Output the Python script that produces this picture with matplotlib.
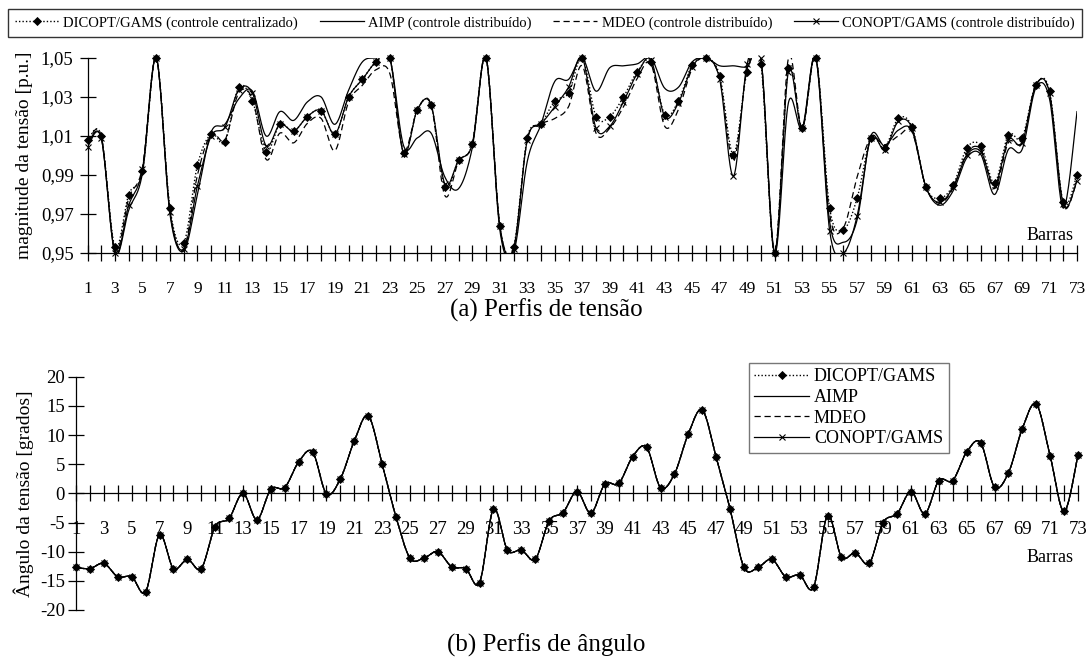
import numpy as np
import matplotlib
matplotlib.use('Agg')
import matplotlib.pyplot as plt
from matplotlib.lines import Line2D

plt.rcParams['font.family'] = ['Liberation Serif', 'DejaVu Serif']

buses = np.arange(1, 74)

# tensao [p.u.]
v_dicopt = [1.008, 1.010, 0.953, 0.980, 0.992, 1.050, 0.973, 0.955, 0.995, 1.011,
            1.007, 1.035, 1.028, 1.002, 1.016, 1.0125, 1.020, 1.023, 1.011, 1.030,
            1.039, 1.048, 1.050, 1.0015, 1.0235, 1.026, 0.984, 0.9975, 1.006, 1.050,
            0.964, 0.953, 1.009, 1.016, 1.028, 1.032, 1.050, 1.020, 1.020, 1.030,
            1.043, 1.048, 1.021, 1.028, 1.0465, 1.050, 1.041, 1.0005, 1.043, 1.047,
            0.950, 1.045, 1.014, 1.050, 0.973, 0.962, 0.978, 1.009, 1.004, 1.019,
            1.0145, 0.984, 0.978, 0.985, 1.004, 1.005, 0.986, 1.0105, 1.009, 1.036,
            1.033, 0.976, 0.990]
v_aimp = [1.006, 1.009, 0.950, 0.972, 0.991, 1.050, 0.970, 0.951, 0.980, 1.012,
          1.016, 1.029, 1.033, 1.010, 1.0225, 1.018, 1.0275, 1.030, 1.016, 1.0335,
          1.048, 1.050, 1.050, 1.005, 1.009, 1.0115, 0.989, 0.983, 1.004, 1.050,
          0.962, 0.950, 0.997, 1.016, 1.038, 1.039, 1.050, 1.033, 1.045, 1.046,
          1.047, 1.050, 1.0345, 1.035, 1.048, 1.050, 1.046, 1.046, 1.0455, 1.050,
          0.950, 1.027, 1.014, 1.050, 0.966, 0.9555, 0.967, 1.010, 1.005, 1.013,
          1.0125, 0.984, 0.9745, 0.982, 0.999, 1.0005, 0.980, 1.003, 1.003, 1.0345,
          1.029, 0.973, 1.0225]
v_mdeo = [1.007, 1.010, 0.951, 0.978, 0.994, 1.050, 0.972, 0.952, 0.990, 1.011,
          1.008, 1.032, 1.029, 0.998, 1.0115, 1.0065, 1.0165, 1.019, 1.0025, 1.0275,
          1.036, 1.044, 1.042, 1.0025, 1.0235, 1.026, 0.9795, 0.997, 1.006, 1.050,
          0.964, 0.952, 1.008, 1.016, 1.019, 1.025, 1.046, 1.0115, 1.014, 1.025,
          1.0395, 1.047, 1.015, 1.0235, 1.0445, 1.050, 1.0395, 0.997, 1.0445, 1.050,
          0.950, 1.050, 1.014, 1.050, 0.970, 0.963, 0.989, 1.009, 1.0055, 1.010,
          1.012, 0.984, 0.9755, 0.9835, 1.0015, 1.003, 0.983, 1.0065, 1.007, 1.036,
          1.032, 0.9745, 0.987]
v_conopt = [1.0045, 1.009, 0.950, 0.9745, 0.993, 1.050, 0.971, 0.952, 0.9845, 1.010,
            1.0145, 1.0335, 1.032, 1.005, 1.016, 1.0125, 1.020, 1.023, 1.011, 1.030,
            1.039, 1.048, 1.050, 1.001, 1.0235, 1.026, 0.9855, 0.9975, 1.006, 1.050,
            0.964, 0.952, 1.008, 1.016, 1.025, 1.035, 1.050, 1.014, 1.015, 1.0275,
            1.042, 1.049, 1.020, 1.027, 1.0455, 1.050, 1.039, 0.9895, 1.047, 1.050,
            0.950, 1.043, 1.014, 1.050, 0.9615, 0.950, 0.969, 1.009, 1.003, 1.0175,
            1.014, 0.984, 0.976, 0.984, 1.0005, 1.002, 0.9845, 1.008, 1.0065, 1.036,
            1.032, 0.975, 0.987]

# angulo [graus] - as quatro curvas praticamente coincidem
a_dicopt = [-12.7, -12.9, -12.0, -14.3, -14.3, -16.9, -7.1, -12.9, -11.3, -12.9,
            -5.7, -4.3, 0.0, -4.5, 0.7, 1.0, 5.4, 7.1, -0.1, 2.5,
            9.0, 13.3, 5.0, -4.1, -11.1, -11.1, -10.0, -12.6, -12.9, -15.3,
            -2.7, -9.7, -9.7, -11.3, -4.7, -3.3, 0.3, -3.4, 1.6, 1.7,
            6.3, 7.9, 1.0, 3.3, 10.2, 14.3, 6.2, -2.7, -12.7, -12.7,
            -11.3, -14.3, -14.0, -16.1, -3.8, -10.9, -10.2, -12.0, -5.0, -3.5,
            0.3, -3.5, 2.2, 2.2, 7.1, 8.7, 1.1, 3.5, 11.1, 15.3,
            6.4, -3.1, 6.6]
a_aimp = list(a_dicopt)
a_mdeo = list(a_dicopt)
a_conopt = list(a_dicopt)

labels_top = ['DICOPT/GAMS (controle centralizado)', 'AIMP (controle distribuído)',
              'MDEO (controle distribuído)', 'CONOPT/GAMS (controle distribuído)']
labels_bot = ['DICOPT/GAMS', 'AIMP', 'MDEO', 'CONOPT/GAMS']


def smooth(x, y, n=20):
    # curva suavizada tipo Excel (Catmull-Rom / Bezier)
    x = np.asarray(x, float)
    y = np.asarray(y, float)
    px = np.concatenate([[x[0]], x, [x[-1]]])
    py = np.concatenate([[y[0]], y, [y[-1]]])
    t = np.linspace(0, 1, n, endpoint=False)[:, None]
    out_x, out_y = [], []
    for i in range(len(x) - 1):
        p0 = np.array([px[i], py[i]])
        p1 = np.array([px[i + 1], py[i + 1]])
        p2 = np.array([px[i + 2], py[i + 2]])
        p3 = np.array([px[i + 3], py[i + 3]])
        c1 = p1 + (p2 - p0) / 6
        c2 = p2 - (p3 - p1) / 6
        b = ((1 - t) ** 3) * p1 + 3 * ((1 - t) ** 2) * t * c1 + 3 * (1 - t) * t ** 2 * c2 + t ** 3 * p2
        out_x.append(b[:, 0])
        out_y.append(b[:, 1])
    out_x.append([x[-1]])
    out_y.append([y[-1]])
    return np.concatenate(out_x), np.concatenate(out_y)


styles = [
    dict(ls=(0, (1, 1.5)), lw=1.0, marker='D', ms=3.6, mew=0.6),
    dict(ls='-', lw=0.9, marker=None),
    dict(ls=(0, (5, 3)), lw=0.9, marker=None),
    dict(ls='-', lw=0.9, marker='x', ms=4.5, mew=0.8),
]


def draw(ax, series):
    for k in [2, 1, 3, 0]:
        st = styles[k]
        sx, sy = smooth(buses, series[k])
        ax.plot(sx, sy, color='black', ls=st['ls'], lw=st['lw'], zorder=2 + k * 0.1)
        if st['marker']:
            ax.plot(buses, series[k], ls='none', marker=st['marker'], ms=st['ms'],
                    mfc='black', mec='black', mew=st['mew'], clip_on=False, zorder=3)


def handles():
    hs = []
    for st in styles:
        hs.append(Line2D([0], [0], color='black', ls=st['ls'], lw=st['lw'],
                         marker=st['marker'], ms=st.get('ms', 0),
                         mfc='black', mec='black', mew=st.get('mew', 0.8)))
    return hs


fig = plt.figure(figsize=(10.88, 6.61), dpi=100)

# ---- (a) tensao
ax1 = fig.add_axes([87.5 / 1088, 1 - 253 / 661, (1077 - 87.5) / 1088, (253 - 58) / 661])
draw(ax1, [v_dicopt, v_aimp, v_mdeo, v_conopt])
ax1.set_xlim(1, 73)
ax1.set_ylim(0.95, 1.05)
yt = [0.95, 0.97, 0.99, 1.01, 1.03, 1.05]
ax1.set_yticks(yt)
ax1.set_yticklabels([('%.2f' % v).replace('.', ',') for v in yt])
ax1.set_xticks(buses)
ax1.set_xticklabels([str(b) if b % 2 == 1 else '' for b in buses])
ax1.tick_params(axis='x', direction='inout', length=12, width=0.9, pad=14, labelsize=12.5)
ax1.tick_params(axis='y', direction='inout', length=12, width=0.9, pad=4, labelsize=13.5)
for s in ['top', 'right']:
    ax1.spines[s].set_visible(False)
ax1.spines['left'].set_linewidth(0.9)
ax1.spines['bottom'].set_linewidth(0.9)
ax1.set_ylabel('magnitude da tensão [p.u.]', fontsize=14, labelpad=6)
ax1.text(1050, 661 - 236, 'Barras', transform=None, fontsize=13, ha='center', va='center')
fig.text(546 / 1088, 1 - 310 / 661, '(a) Perfis de tensão', fontsize=18, ha='center', va='center')

fig.legend(handles(), labels_top, loc='lower left', ncol=4, mode='expand',
           bbox_to_anchor=(8 / 1088, 1 - 37 / 661, 1074 / 1088, 31 / 661),
           fontsize=10.5, frameon=True, fancybox=False, edgecolor='black',
           handlelength=3, handletextpad=0.3, borderaxespad=0, borderpad=0.5)

# ---- (b) angulo
ax2 = fig.add_axes([76 / 1088, 1 - 610 / 661, (1078 - 76) / 1088, (610 - 376.7) / 661])
draw(ax2, [a_dicopt, a_aimp, a_mdeo, a_conopt])
ax2.set_xlim(1, 73)
ax2.set_ylim(-20, 20)
ax2.set_yticks(np.arange(-20, 21, 5))
ax2.set_yticklabels([str(v) for v in range(-20, 21, 5)])
ax2.set_xticks(buses)
ax2.set_xticklabels([str(b) if b % 2 == 1 else '' for b in buses])
ax2.tick_params(axis='x', direction='inout', length=12, width=0.9, pad=14, labelsize=13.5)
ax2.tick_params(axis='y', direction='inout', length=12, width=0.9, pad=2, labelsize=13.5)
for s in ['top', 'right']:
    ax2.spines[s].set_visible(False)
ax2.spines['bottom'].set_position(('data', 0))
ax2.spines['left'].set_linewidth(0.9)
ax2.spines['bottom'].set_linewidth(0.9)
ax2.set_ylabel('Ângulo da tensão [grados]', fontsize=14, labelpad=4)
ax2.text(1050, 661 - 558, 'Barras', transform=None, fontsize=13, ha='center', va='center')
ax2.legend(handles(), labels_bot, loc='upper left',
           bbox_to_anchor=(749 / 1088, 1 - 363 / 661), bbox_transform=fig.transFigure,
           fontsize=13, frameon=True, fancybox=False, edgecolor='#555555',
           handlelength=3, handletextpad=0.3, borderaxespad=0, borderpad=0.3, labelspacing=0.2)
fig.text(546 / 1088, 1 - 645 / 661, '(b) Perfis de ângulo', fontsize=18, ha='center', va='center')

fig.savefig('out.png', dpi=100)
